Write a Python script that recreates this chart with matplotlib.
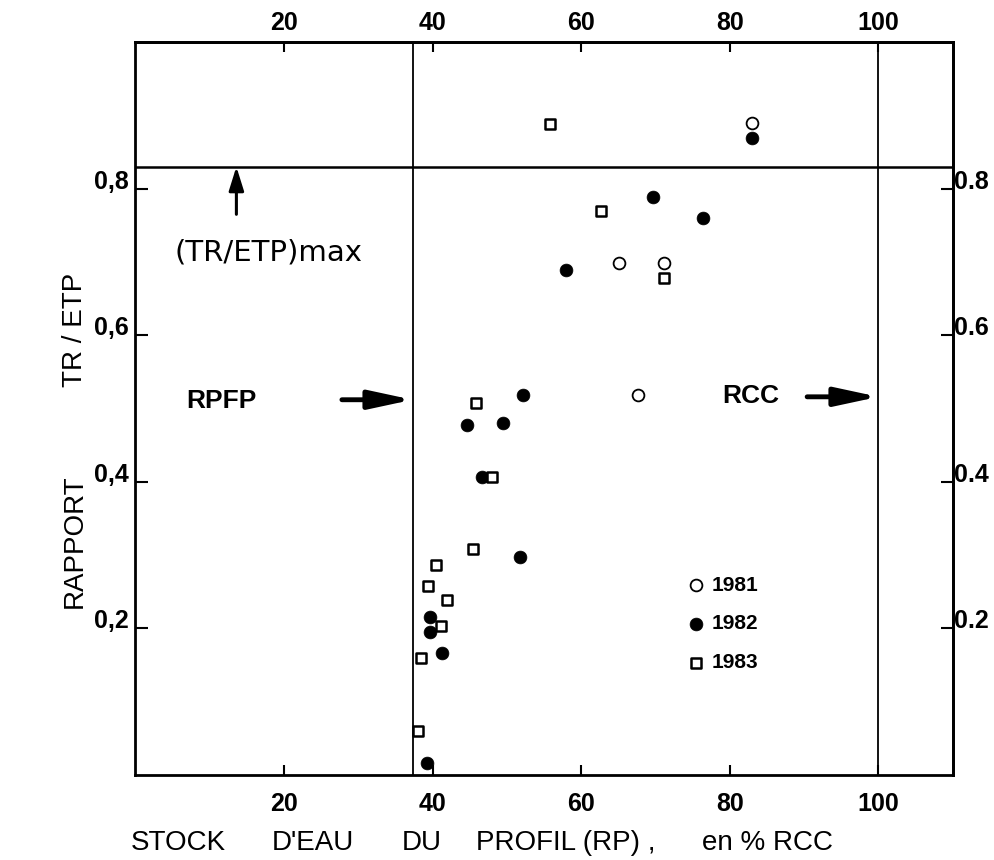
import matplotlib
matplotlib.use('Agg')
import matplotlib.pyplot as plt
from matplotlib import font_manager

# soil water stock (% RCC) vs TR/ETP ratio, three seasons
x_1981 = [83.0, 65.1, 71.2, 67.7]
y_1981 = [0.890, 0.698, 0.698, 0.518]

x_1982 = [83.0, 69.6, 76.4, 58.0, 52.1, 44.6, 49.5, 46.6, 51.8, 39.6, 39.6, 41.3, 39.2]
y_1982 = [0.869, 0.789, 0.760, 0.689, 0.519, 0.477, 0.480, 0.406, 0.297, 0.215, 0.195, 0.167, 0.016]

x_1983 = [55.8, 62.7, 71.2, 45.9, 48.0, 45.5, 40.4, 39.4, 41.9, 41.1, 38.5, 38.1]
y_1983 = [0.888, 0.769, 0.678, 0.507, 0.407, 0.308, 0.287, 0.258, 0.239, 0.204, 0.159, 0.060]

x_ticks = [20, 40, 60, 80, 100]
y_ticks = [0.2, 0.4, 0.6, 0.8]
y_labels_left = ['0,2', '0,4', '0,6', '0,8']
y_labels_right = ['0.2', '0.4', '0.6', '0.8']

tr_etp_max = 0.83   # (TR/ETP)max
rpfp = 37.3         # RPFP, % RCC
rcc = 100           # RCC

installed = {f.name for f in font_manager.fontManager.ttflist}
narrow = 'Liberation Sans Narrow' if 'Liberation Sans Narrow' in installed else 'Liberation Sans'

fig = plt.figure(figsize=(9.95, 8.6), dpi=100)
ax = fig.add_axes([0.136, 0.0988, 0.8216, 0.8523])
ax.set_xlim(0, 110)
ax.set_ylim(0, 1.0)

for s in ax.spines.values():
    s.set_linewidth(2)

ax.axhline(tr_etp_max, color='black', lw=1.8)
ax.axvline(rpfp, color='black', lw=1.3)
ax.axvline(rcc, color='black', lw=1.3)

ax.scatter(x_1981, y_1981, s=72, facecolors='white', edgecolors='black', linewidths=1.3, label='1981', zorder=3)
ax.scatter(x_1982, y_1982, s=85, facecolors='black', edgecolors='black', linewidths=0.5, label='1982', zorder=3)
ax.scatter(x_1983, y_1983, s=45, marker='s', facecolors='white', edgecolors='black', linewidths=1.8, label='1983', zorder=3)

tick_font = dict(family=narrow, weight='bold', size=18)

ax.set_xticks(x_ticks)
ax.set_xticklabels([str(t) for t in x_ticks], **tick_font)
ax.tick_params(axis='x', direction='in', length=7, width=1.5, pad=12)

top = ax.secondary_xaxis('top')
top.set_xticks(x_ticks)
top.set_xticklabels([str(t) for t in x_ticks], **tick_font)
top.tick_params(axis='x', direction='in', length=7, width=1.5, pad=5)
top.spines['top'].set_linewidth(2)

ax.set_yticks(y_ticks)
ax.set_yticklabels(y_labels_left, **tick_font)
ax.tick_params(axis='y', direction='in', length=9, width=1.5, pad=5)
for lbl in ax.get_yticklabels():
    lbl.set_va('baseline')

ax2 = ax.secondary_yaxis('right')
ax2.set_yticks(y_ticks)
ax2.set_yticklabels(y_labels_right, **tick_font)
ax2.tick_params(axis='y', direction='in', length=9, width=1.5, pad=1)
ax2.spines['right'].set_linewidth(2)
for lbl in ax2.get_yticklabels():
    lbl.set_va('baseline')

# reference arrows and annotations
ax.annotate('', xy=(13.6, tr_etp_max), xytext=(13.6, 0.765),
            arrowprops=dict(arrowstyle='-|>,head_length=0.8,head_width=0.25', lw=2.2, color='black',
                            mutation_scale=18, shrinkA=0, shrinkB=0))
ax.text(5.3, 0.713, '(TR/ETP)max', fontsize=21, family='DejaVu Sans', va='center', ha='left')

ax.annotate('', xy=(rpfp, 0.512), xytext=(27.8, 0.512),
            arrowprops=dict(arrowstyle='-|>,head_length=1.3,head_width=0.28', lw=3.5, color='black',
                            mutation_scale=20, shrinkA=0, shrinkB=0))
ax.text(6.9, 0.51, 'RPFP', fontsize=19, family='Liberation Sans', weight='bold', va='center', ha='left')

ax.annotate('', xy=(rcc, 0.516), xytext=(90.4, 0.516),
            arrowprops=dict(arrowstyle='-|>,head_length=1.3,head_width=0.28', lw=3.5, color='black',
                            mutation_scale=20, shrinkA=0, shrinkB=0))
ax.text(79.0, 0.517, 'RCC', fontsize=19, family='Liberation Sans', weight='bold', va='center', ha='left')

leg = ax.legend(loc='upper left', bbox_to_anchor=(0.676, 0.272), frameon=False,
                handlelength=0.8, handletextpad=0.35, labelspacing=0.95, borderpad=0, borderaxespad=0,
                prop=dict(family=narrow, weight='bold', size=15))

# x axis title, word by word
xlabel_words = ["STOCK", "D'EAU", "DU", "PROFIL (RP) ,", "en % RCC"]
xlabel_pos = [131, 272, 402, 476, 702]
for w, px in zip(xlabel_words, xlabel_pos):
    fig.text(px / 995, 1 - 843 / 860, w, fontsize=20, family='Liberation Sans', ha='left', va='center')

# y axis title
fig.text(75 / 995, 1 - 541 / 860, 'RAPPORT', fontsize=20, family='Liberation Sans',
         rotation=90, ha='center', va='center')
fig.text(75 / 995, 1 - 330 / 860, 'TR / ETP', fontsize=20, family='Liberation Sans',
         rotation=90, ha='center', va='center')

fig.savefig('out.png', dpi=100)
